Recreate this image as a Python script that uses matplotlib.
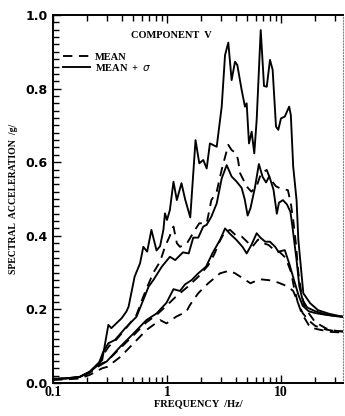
import matplotlib
matplotlib.use('Agg')
import matplotlib.pyplot as plt
import matplotlib.ticker as ticker

# mean + sigma, upper set
f_s1 = [0.10, 0.13, 0.17, 0.21, 0.25, 0.27, 0.306, 0.325, 0.40, 0.44, 0.46, 0.52, 0.58, 0.62,
        0.67, 0.73, 0.81, 0.87, 0.93, 0.96, 1.00, 1.06, 1.14, 1.22, 1.34, 1.44, 1.60, 1.78, 1.92,
        2.08, 2.23, 2.38, 2.73, 3.02, 3.23, 3.45, 3.69, 3.95, 4.14, 4.52, 4.83, 5.0, 5.24, 5.53,
        5.83, 6.12, 6.64, 7.1, 7.5, 8.01, 8.45, 9.04, 9.47, 10.0, 10.8, 11.8, 12.2, 12.8, 13.7,
        14.2, 15.7, 18.0, 21.1, 26.5, 32.6, 35.0]
a_s1 = [0.012, 0.012, 0.016, 0.031, 0.054, 0.062, 0.158, 0.149, 0.176, 0.194, 0.207, 0.289, 0.325, 0.370,
        0.357, 0.416, 0.360, 0.372, 0.416, 0.461, 0.443, 0.470, 0.547, 0.497, 0.543, 0.500, 0.450, 0.660, 0.597,
        0.606, 0.583, 0.651, 0.642, 0.751, 0.891, 0.925, 0.823, 0.873, 0.864, 0.796, 0.751, 0.760, 0.651, 0.683,
        0.624, 0.715, 0.959, 0.807, 0.805, 0.878, 0.851, 0.697, 0.688, 0.719, 0.724, 0.751, 0.728, 0.588, 0.497,
        0.389, 0.244, 0.217, 0.198, 0.188, 0.182, 0.180]

# mean + sigma, middle set
f_s2 = [0.10, 0.17, 0.21, 0.25, 0.276, 0.306, 0.35, 0.43, 0.54, 0.62, 0.69, 0.76, 0.90, 1.06, 1.18,
        1.38, 1.55, 1.70, 1.88, 2.08, 2.23, 2.45, 2.73, 3.02, 3.34, 3.69, 4.06, 4.52, 4.80, 5.10,
        5.40, 5.90, 6.40, 6.90, 7.40, 7.90, 8.60, 9.20, 9.60, 10.4, 11.3, 12.1, 12.6, 13.7, 14.5,
        15.5, 17.0, 20.0, 25.0, 30.0, 35.0]
a_s2 = [0.010, 0.016, 0.030, 0.050, 0.085, 0.108, 0.117, 0.149, 0.180, 0.226, 0.262, 0.280, 0.316, 0.343, 0.334,
        0.355, 0.352, 0.395, 0.395, 0.425, 0.430, 0.452, 0.488, 0.556, 0.592, 0.561, 0.548, 0.530, 0.500, 0.455,
        0.475, 0.530, 0.595, 0.560, 0.545, 0.562, 0.525, 0.460, 0.490, 0.497, 0.485, 0.465, 0.425, 0.334, 0.262,
        0.225, 0.205, 0.195, 0.186, 0.182, 0.180]

# mean + sigma, lower set
f_s3 = [0.10, 0.17, 0.21, 0.25, 0.295, 0.39, 0.51, 0.66, 0.81, 0.99, 1.14, 1.30, 1.44, 1.65, 1.88,
        2.2, 2.5, 2.92, 3.23, 3.58, 4.06, 4.6, 5.0, 5.5, 6.12, 6.6, 7.27, 8.0, 8.9, 9.47, 10.8,
        11.8, 13.0, 14.2, 15.5, 17.5, 20.0, 25.0, 30.0, 35.0]
a_s3 = [0.010, 0.016, 0.030, 0.050, 0.058, 0.099, 0.135, 0.171, 0.189, 0.218, 0.255, 0.250, 0.268, 0.280, 0.298,
        0.316, 0.352, 0.389, 0.420, 0.405, 0.389, 0.370, 0.352, 0.375, 0.407, 0.395, 0.384, 0.384, 0.370, 0.357, 0.361,
        0.325, 0.280, 0.240, 0.210, 0.195, 0.190, 0.185, 0.182, 0.180]

# mean, upper set
f_d1 = [0.10, 0.17, 0.21, 0.25, 0.28, 0.31, 0.36, 0.44, 0.54, 0.62, 0.69, 0.76, 0.87, 0.96, 1.06,
        1.14, 1.22, 1.30, 1.50, 1.76, 1.92, 2.23, 2.45, 2.73, 3.02, 3.45, 3.69, 4.06, 4.20, 4.38,
        5.0, 5.5, 6.1, 6.7, 7.5, 8.0, 9.0, 9.8, 11.5, 12.2, 12.8, 13.5, 14.2, 15.0, 16.0, 17.5,
        20.0, 25.0, 30.0, 35.0]
a_d1 = [0.010, 0.015, 0.029, 0.048, 0.080, 0.100, 0.118, 0.150, 0.185, 0.235, 0.270, 0.300, 0.330, 0.370, 0.400,
        0.425, 0.380, 0.370, 0.380, 0.416, 0.434, 0.434, 0.497, 0.520, 0.580, 0.647, 0.633, 0.624, 0.606, 0.570,
        0.534, 0.520, 0.534, 0.570, 0.579, 0.556, 0.535, 0.529, 0.524, 0.488, 0.443, 0.380, 0.300, 0.250, 0.210, 0.190,
        0.165, 0.148, 0.142, 0.140]

# mean, middle set
f_d3 = [0.10, 0.17, 0.21, 0.25, 0.30, 0.39, 0.51, 0.66, 0.81, 0.99, 1.2, 1.5, 1.9, 2.3, 2.6,
        2.9, 3.2, 3.58, 4.06, 4.52, 5.0, 5.6, 6.3, 7.0, 7.8, 8.8, 9.8, 11.0, 12.3, 13.0, 14.0,
        15.5, 17.5, 20.0, 25.0, 30.0, 35.0]
a_d3 = [0.010, 0.015, 0.028, 0.045, 0.060, 0.095, 0.130, 0.165, 0.185, 0.210, 0.235, 0.260, 0.290, 0.320, 0.350,
        0.385, 0.410, 0.416, 0.400, 0.398, 0.385, 0.370, 0.390, 0.380, 0.375, 0.360, 0.355, 0.340, 0.300, 0.260, 0.220,
        0.190, 0.170, 0.155, 0.145, 0.141, 0.140]

# mean, lower set
f_d4 = [0.10, 0.17, 0.21, 0.27, 0.30, 0.39, 0.51, 0.66, 0.87, 0.99, 1.2, 1.48, 1.59, 1.88, 2.3,
        2.92, 3.5, 3.96, 4.6, 5.4, 6.5, 7.5, 8.5, 9.8, 11.5, 12.8, 13.8, 15.2, 16.5, 18.0, 21.0,
        27.0, 35.0]
a_d4 = [0.008, 0.012, 0.022, 0.040, 0.044, 0.071, 0.108, 0.144, 0.171, 0.162, 0.180, 0.194, 0.212, 0.244, 0.271,
        0.298, 0.305, 0.298, 0.285, 0.271, 0.282, 0.280, 0.278, 0.271, 0.262, 0.250, 0.226, 0.189, 0.171, 0.151, 0.146,
        0.139, 0.137]

x_ticks = [0.1, 1, 10]
x_ticklabels = ['0.1', '1', '10']
y_ticks = [0.0, 0.2, 0.4, 0.6, 0.8, 1.0]
y_ticklabels = ['0.0', '0.2', '0.4', '0.6', '0.8', '1.0']

serif = ['Liberation Serif', 'DejaVu Serif']

fig = plt.figure(figsize=(3.45, 4.16), dpi=100)
ax = fig.add_axes([53 / 345, 33 / 416, 290 / 345, 368 / 416])

solid = dict(color='black', lw=1.35, ls='-')
dashed = dict(color='black', lw=1.35, ls=(0, (5, 3.5)))

ax.plot(f_s1, a_s1, **solid)
ax.plot(f_s2, a_s2, **solid)
ax.plot(f_s3, a_s3, **solid)
ax.plot(f_d1, a_d1, **dashed)
ax.plot(f_d3, a_d3, **dashed)
ax.plot(f_d4, a_d4, **dashed)

ax.set_xscale('log')
ax.set_xlim(0.1, 35)
ax.set_ylim(0, 1.0)

ax.set_xticks(x_ticks)
ax.set_xticklabels(x_ticklabels, fontfamily=serif, fontweight='bold', fontsize=10)
ax.xaxis.set_minor_locator(ticker.LogLocator(base=10, subs=range(2, 10)))
ax.xaxis.set_minor_formatter(ticker.NullFormatter())
ax.set_yticks(y_ticks)
ax.set_yticklabels(y_ticklabels, fontfamily='DejaVu Sans', fontweight='bold', fontsize=9)
ax.yaxis.set_minor_locator(ticker.MultipleLocator(0.02))

ax.tick_params(which='both', direction='in', top=True, right=False, width=1.0)
ax.tick_params(which='major', length=6, pad=2)
ax.tick_params(which='minor', length=4)
ax.tick_params(axis='y', which='major', pad=4)

for s in ['left', 'bottom', 'top']:
    ax.spines[s].set_linewidth(1.4)
ax.spines['right'].set_linestyle(':')
ax.spines['right'].set_linewidth(0.8)
ax.spines['right'].set_color('#888888')

ax.set_xlabel('FREQUENCY  /Hz/', fontfamily=serif, fontweight='bold', fontsize=7.5, labelpad=0)
ax.set_ylabel('SPECTRAL  ACCELERATION  /g/', fontfamily=serif, fontweight='bold', fontsize=7, labelpad=5)

ax.text(0.27, 0.945, 'COMPONENT  V', transform=ax.transAxes, fontfamily=serif,
        fontweight='bold', fontsize=7.5, ha='left', va='center')

h1, = ax.plot([], [], **dashed)
h2, = ax.plot([], [], **solid)
leg = ax.legend([h1, h2], ['MEAN', r'MEAN  +  $\sigma$'], loc='upper left', bbox_to_anchor=(0.02, 0.91),
                frameon=False, handlelength=2.6, handletextpad=0.5, labelspacing=0.0, borderaxespad=0,
                prop={'family': serif, 'weight': 'bold', 'size': 7.5})

fig.savefig('out.png', dpi=100)
